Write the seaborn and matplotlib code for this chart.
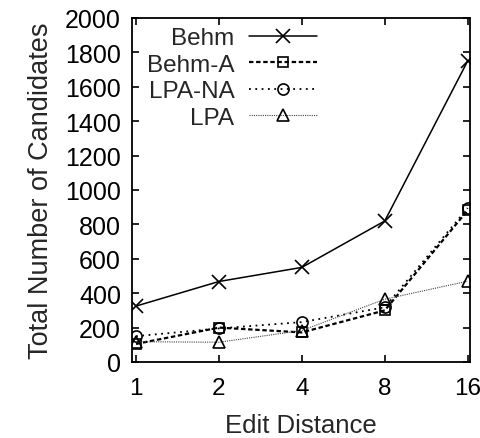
import matplotlib
matplotlib.use("Agg")
import matplotlib.pyplot as plt
import seaborn as sns
import pandas as pd

edit_distance = [1, 2, 4, 8, 16]
behm = [325, 468, 550, 820, 1750]
behm_a = [105, 200, 172, 300, 882]
lpa_na = [150, 195, 232, 318, 895]
lpa = [118, 115, 183, 365, 470]
series_names = ["Behm", "Behm-A", "LPA-NA", "LPA"]
y_ticks = [0, 200, 400, 600, 800, 1000, 1200, 1400, 1600, 1800, 2000]

sns.set_style("ticks")
plt.rcParams["font.family"] = ["Liberation Sans", "DejaVu Sans"]

fig = plt.figure(figsize=(4.81, 4.39), dpi=100)
ax = fig.add_axes([132 / 481, 1 - 363 / 439, (470 - 132) / 481, (363 - 19) / 439])

styles = {
    "Behm": dict(linestyle="-", lw=1.1, marker="x", ms=10, color="black"),
    "Behm-A": dict(linestyle=(0, (2, 1.2)), lw=1.6, marker="s", ms=7.5, color="black"),
    "LPA-NA": dict(linestyle=(0, (1, 2.5)), lw=1.3, marker="o", ms=8, color="black"),
    "LPA": dict(linestyle=(0, (1, 1)), lw=0.8, marker="^", ms=8, color="#444444"),
}
values = {"Behm": behm, "Behm-A": behm_a, "LPA-NA": lpa_na, "LPA": lpa}

for name in series_names:
    df = pd.DataFrame({"dist": edit_distance, "cand": values[name]})
    st = styles[name]
    sns.lineplot(data=df, x="dist", y="cand", ax=ax, label=name,
                 linestyle=st["linestyle"], linewidth=st["lw"], marker=st["marker"],
                 markersize=st["ms"], color=st["color"], markerfacecolor="none",
                 markeredgecolor="black", markeredgewidth=1.2)

ax.set_xscale("log", base=2)
ax.set_xlim(2 ** -0.048, 2 ** 4.028)
ax.set_xticks(edit_distance)
ax.set_xticklabels([str(v) for v in edit_distance])
ax.minorticks_off()
ax.set_ylim(0, 2000)
ax.set_yticks(y_ticks)
ax.set_yticklabels([str(v) for v in y_ticks])

ax.tick_params(axis="both", which="major", direction="in", length=5, width=1.2,
               top=True, right=True, labelsize=18, colors="black")
ax.tick_params(axis="y", pad=8)
ax.tick_params(axis="x", pad=11, labelsize=17.5)
for sp in ax.spines.values():
    sp.set_visible(True)
    sp.set_linewidth(1.3)
    sp.set_color("black")

ax.set_xlabel("Edit Distance", fontsize=18.5, labelpad=10)
ax.set_ylabel("Total Number of Candidates", fontsize=19.5, labelpad=8)

handles, labels = ax.get_legend_handles_labels()
ax.legend(handles, labels, markerfirst=False, frameon=False, fontsize=17.5,
          loc="center right", bbox_to_anchor=(317 / 481, 1 - 79 / 439),
          bbox_transform=fig.transFigure, borderpad=0, borderaxespad=0,
          labelspacing=0.18, handlelength=2.8, handletextpad=0.6)

fig.savefig("out.png", dpi=100)
